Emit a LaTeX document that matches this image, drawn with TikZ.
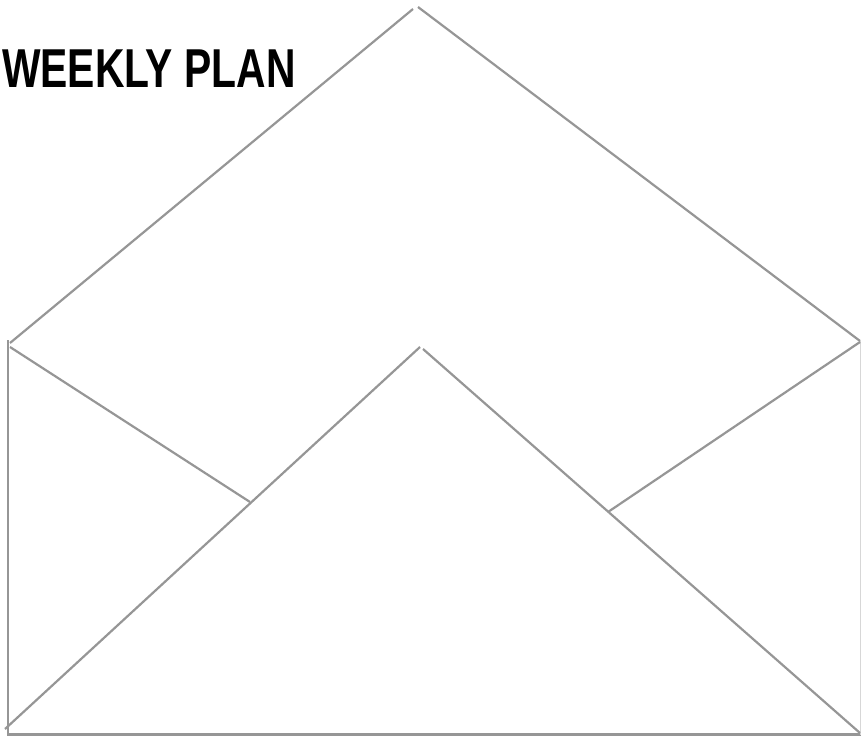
\documentclass[tikz,border=0pt]{standalone}
\usepackage{fontspec}
\setmainfont{Liberation Sans}
\definecolor{envgray}{RGB}{150,150,150}
\definecolor{edgegray}{RGB}{215,215,215}
\tikzset{
  envline/.style={draw=envgray, line width=2.2bp},
  edgeline/.style={draw=edgegray, line width=1.2bp},
  titletext/.style={anchor=base west, inner sep=0pt, font=\fontsize{55}{60}\selectfont\bfseries}
}
\begin{document}
\begin{tikzpicture}[x=1bp, y=-1bp]
		\useasboundingbox (0,0) rectangle (861,737);
		
		% Title
		\node[titletext] (title) at (2,87) {\scalebox{0.745}[1]{WEEKLY PLAN}};
		
		% Back flap
		\coordinate (flapL) at (10,343);
		\coordinate (flapTopL) at (413,9);
		\coordinate (flapTopR) at (418,7);
		\coordinate (flapR) at (860,341);
		
		% Envelope body
		\coordinate (bodyTL) at (8,340);
		\coordinate (bodyBL) at (8,735);
		\coordinate (baseL) at (7,734.5);
		\coordinate (baseR) at (861,734.5);
		\coordinate (edgeT) at (860.5,341);
		\coordinate (edgeB) at (860.5,735);
		
		% Side folds
		\coordinate (foldL) at (10,347);
		\coordinate (foldLend) at (250,502);
		\coordinate (foldR) at (860,342);
		\coordinate (foldRend) at (608,512);
		
		% Front flap
		\coordinate (frontL) at (5,729);
		\coordinate (frontTopL) at (420,347);
		\coordinate (frontTopR) at (423,349);
		\coordinate (frontR) at (860,733);
		
		% Lines
		\draw[envline] (flapL) -- (flapTopL);
		\draw[envline] (flapTopR) -- (flapR);
		
		\draw[envline] (bodyTL) -- (bodyBL);
		\draw[envline] (baseL) -- (baseR);
		\draw[edgeline] (edgeT) -- (edgeB);
		
		\draw[envline] (foldL) -- (foldLend);
		\draw[envline] (foldR) -- (foldRend);
		
		\draw[envline] (frontL) -- (frontTopL);
		\draw[envline] (frontTopR) -- (frontR);
		
	\end{tikzpicture}
\end{document}
